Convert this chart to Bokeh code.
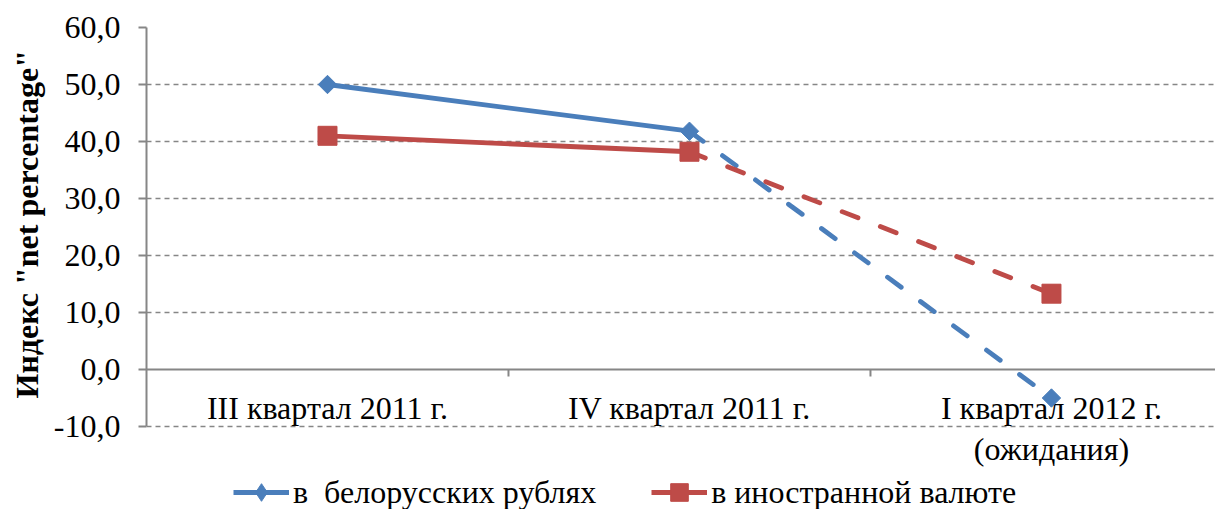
import math
from bokeh.plotting import figure
from bokeh.models import Range1d, FixedTicker, Legend, LegendItem, Span, Title
from bokeh.embed import file_html
from bokeh.resources import INLINE

# ---- data ----
categories = ["III квартал 2011 г.", "IV квартал 2011 г.", "I квартал 2012 г.\n(ожидания)"]
byr_values = [50.0, 41.8, -5.0]
fx_values = [41.0, 38.2, 13.3]
series_names = ["в  белорусских рублях", "в иностранной валюте"]
y_ticks = [-10, 0, 10, 20, 30, 40, 50, 60]
axis_title = 'Индекс "net percentage"'

BLUE = "#4A7EBB"
RED = "#BE4B48"
GRAY = "#868686"
FONT = "Liberation Serif"
FS = "32px"

idx = list(range(len(categories)))
bounds = [i + 0.5 for i in idx[:-1]]

W, H = 1215, 509
LEFT, TOP = 143, 27
Y0, Y1 = -10, 60
PX_PER_UNIT = (426 - TOP) / (Y1 - Y0)
y_start = Y0 - (H - 426) / PX_PER_UNIT
x_end = -0.5 + (W - LEFT) / 363.0

p = figure(width=W, height=H, output_backend="svg", toolbar_location=None,
           x_range=Range1d(-0.5, x_end), y_range=Range1d(y_start, Y1),
           min_border_left=LEFT, min_border_right=0, min_border_top=TOP, min_border_bottom=0)
p.outline_line_color = None
p.background_fill_color = "white"
p.border_fill_color = "white"
p.xaxis.visible = False

# grid
p.xgrid.grid_line_color = None
p.ygrid.ticker = FixedTicker(ticks=[t for t in y_ticks if t != 0])
p.ygrid.grid_line_color = GRAY
p.ygrid.grid_line_width = 1.5
p.ygrid.grid_line_dash = "5 4"

# y axis
p.yaxis.ticker = FixedTicker(ticks=y_ticks)
p.yaxis.bounds = (Y0, Y1)
p.yaxis.major_label_overrides = {t: f"{t:.1f}".replace(".", ",") for t in y_ticks}
p.yaxis.major_label_text_font = FONT
p.yaxis.major_label_text_font_size = FS
p.yaxis.major_label_text_color = "black"
p.yaxis.major_label_standoff = 18
p.yaxis.axis_line_color = GRAY
p.yaxis.axis_line_width = 2
p.yaxis.major_tick_line_color = GRAY
p.yaxis.major_tick_line_width = 2
p.yaxis.major_tick_in = 0
p.yaxis.major_tick_out = 8
p.yaxis.minor_tick_line_color = None

ytitle = Title(text=axis_title, align="left", offset=H - 398, vertical_align="bottom",
               text_font=FONT, text_font_style="bold", text_font_size=FS,
               text_color="black", standoff=12)
p.add_layout(ytitle, "left")

# category axis crossing at zero
p.add_layout(Span(location=0, dimension="width", line_color=GRAY, line_width=2))
p.segment(x0=bounds, y0=[0] * len(bounds), x1=bounds,
          y1=[-7 / PX_PER_UNIT] * len(bounds), line_color=GRAY, line_width=2)
p.text(x=idx, y=[0] * len(idx), text=categories, text_align="center", text_baseline="top",
       y_offset=20, text_font=FONT, text_font_size=FS, text_color="black",
       text_line_height=1.15)

# series
items = []
for vals, color, marker, legend_marker, size, angle, name in [
    (byr_values, BLUE, "square", "diamond", 13, math.pi / 4, series_names[0]),
    (fx_values, RED, "square", "square", 19, 0, series_names[1]),
]:
    solid = p.line(idx[:2], vals[:2], line_color=color, line_width=4.8)
    p.line(idx[1:], vals[1:], line_color=color, line_width=4.8, line_dash="17 24", line_cap="round")
    # marker shape used for the legend sample (covered by the main marker in the plot)
    lg = p.scatter(idx, vals, marker=legend_marker, size=size * 0.9,
                   fill_color=color, line_color=color)
    p.scatter(idx, vals, marker=marker, size=size, angle=angle,
              fill_color=color, line_color=color)
    items.append(LegendItem(label=name, renderers=[solid, lg]))

legend = Legend(items=items, orientation="horizontal", location=(87, -5),
                label_text_font=FONT, label_text_font_size=FS, label_text_color="black",
                glyph_width=56, glyph_height=44, label_standoff=4, spacing=55,
                padding=0, margin=0, border_line_color=None, background_fill_alpha=0)
p.add_layout(legend, "center")

open("out.html", "w").write(file_html(p, INLINE))
